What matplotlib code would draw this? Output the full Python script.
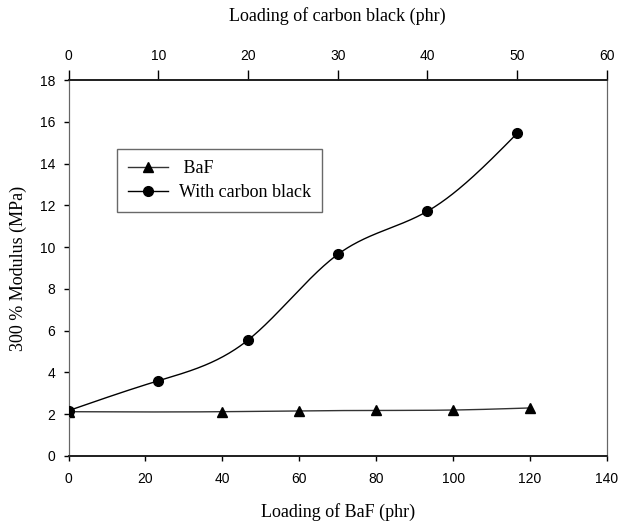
#!/usr/bin/env python3
import numpy as np
import matplotlib
matplotlib.use("Agg")
import matplotlib.pyplot as plt
from matplotlib.lines import Line2D

# BaF loading (bottom axis) and carbon black loading (top axis)
baf_phr = [0, 40, 60, 80, 100, 120]
baf_modulus = [2.12, 2.12, 2.16, 2.18, 2.20, 2.30]

cb_phr = [0, 10, 20, 30, 40, 50]
cb_modulus = [2.17, 3.60, 5.55, 9.65, 11.72, 15.45]

bottom_ticks = [0, 20, 40, 60, 80, 100, 120, 140]
top_ticks = [0, 10, 20, 30, 40, 50, 60]
y_ticks = [0, 2, 4, 6, 8, 10, 12, 14, 16, 18]

SERIF = "Liberation Serif"
SANS = "Liberation Sans"


def spline(x, y, n=300):
    # natural cubic spline, only used to draw the smoothed line
    x = np.asarray(x, float)
    y = np.asarray(y, float)
    h = np.diff(x)
    m = len(x)
    A = np.zeros((m, m))
    b = np.zeros(m)
    A[0, 0] = A[-1, -1] = 1
    for i in range(1, m - 1):
        A[i, i - 1] = h[i - 1]
        A[i, i] = 2 * (h[i - 1] + h[i])
        A[i, i + 1] = h[i]
        b[i] = 3 * ((y[i + 1] - y[i]) / h[i] - (y[i] - y[i - 1]) / h[i - 1])
    c = np.linalg.solve(A, b)
    xs = np.linspace(x[0], x[-1], n)
    idx = np.clip(np.searchsorted(x, xs) - 1, 0, m - 2)
    dx = xs - x[idx]
    bc = (y[1:] - y[:-1]) / h - h * (2 * c[:-1] + c[1:]) / 3
    d = (c[1:] - c[:-1]) / (3 * h)
    ys = y[idx] + bc[idx] * dx + c[idx] * dx ** 2 + d[idx] * dx ** 3
    return xs, ys


fig = plt.figure(figsize=(6.2, 5.21), dpi=100)
ax = fig.add_axes([0.1105, 0.1248, 0.979 - 0.1105, 0.8464 - 0.1248])
ax2 = ax.twiny()

# BaF series on the bottom axis
xs, ys = spline(baf_phr, baf_modulus)
ax.plot(xs, ys, color="#333333", lw=1.0, zorder=2)
ax.plot(baf_phr, baf_modulus, ls="none", marker="^", ms=7, color="black", zorder=3)

# carbon black series on the top axis
xs, ys = spline(cb_phr, cb_modulus)
ax2.plot(xs, ys, color="black", lw=1.0, zorder=2)
ax2.plot(cb_phr, cb_modulus, ls="none", marker="o", ms=7, color="black", zorder=3)

ax.set_xlim(0, 140)
ax.set_ylim(0, 18)
ax2.set_xlim(0, 60)
ax.set_xticks(bottom_ticks)
ax.set_yticks(y_ticks)
ax2.set_xticks(top_ticks)

for a in (ax, ax2):
    a.spines["left"].set_color("#666666")
    a.spines["right"].set_color("#666666")
    a.spines["top"].set_color("#222222")
    a.spines["bottom"].set_color("#222222")
    a.spines["top"].set_linewidth(1.3)
    a.spines["bottom"].set_linewidth(1.3)

ax.tick_params(axis="x", direction="out", length=3.6, width=1, pad=8, labelsize=10)
ax.tick_params(axis="y", direction="out", length=3.6, width=1, pad=6, labelsize=10, right=False)
ax2.tick_params(axis="x", direction="out", length=7.2, width=1, pad=5, labelsize=10)
for lab in ax.get_xticklabels() + ax.get_yticklabels() + ax2.get_xticklabels():
    lab.set_fontfamily(SANS)

ax.set_xlabel("Loading of BaF (phr)", fontsize=13, family=SERIF, labelpad=12)
ax.set_ylabel("300 % Modulus (MPa)", fontsize=13, family=SERIF, labelpad=9)
ax2.set_xlabel("Loading of carbon black (phr)", fontsize=13, family=SERIF, labelpad=20)

handles = [
    Line2D([], [], color="#333333", lw=1.0, marker="^", ms=7, markerfacecolor="black", markeredgecolor="black"),
    Line2D([], [], color="black", lw=1.0, marker="o", ms=7),
]
leg = ax2.legend(handles, [" BaF", "With carbon black"], loc="upper left",
                 bbox_to_anchor=(0.09, 0.8165), borderaxespad=0, frameon=True,
                 fancybox=False, prop={"family": SERIF, "size": 13},
                 handlelength=2.2, handletextpad=0.6, labelspacing=0.37,
                 borderpad=0.62)
leg.get_frame().set_edgecolor("#444444")
leg.get_frame().set_linewidth(1.0)

fig.savefig("out.png", dpi=100)
